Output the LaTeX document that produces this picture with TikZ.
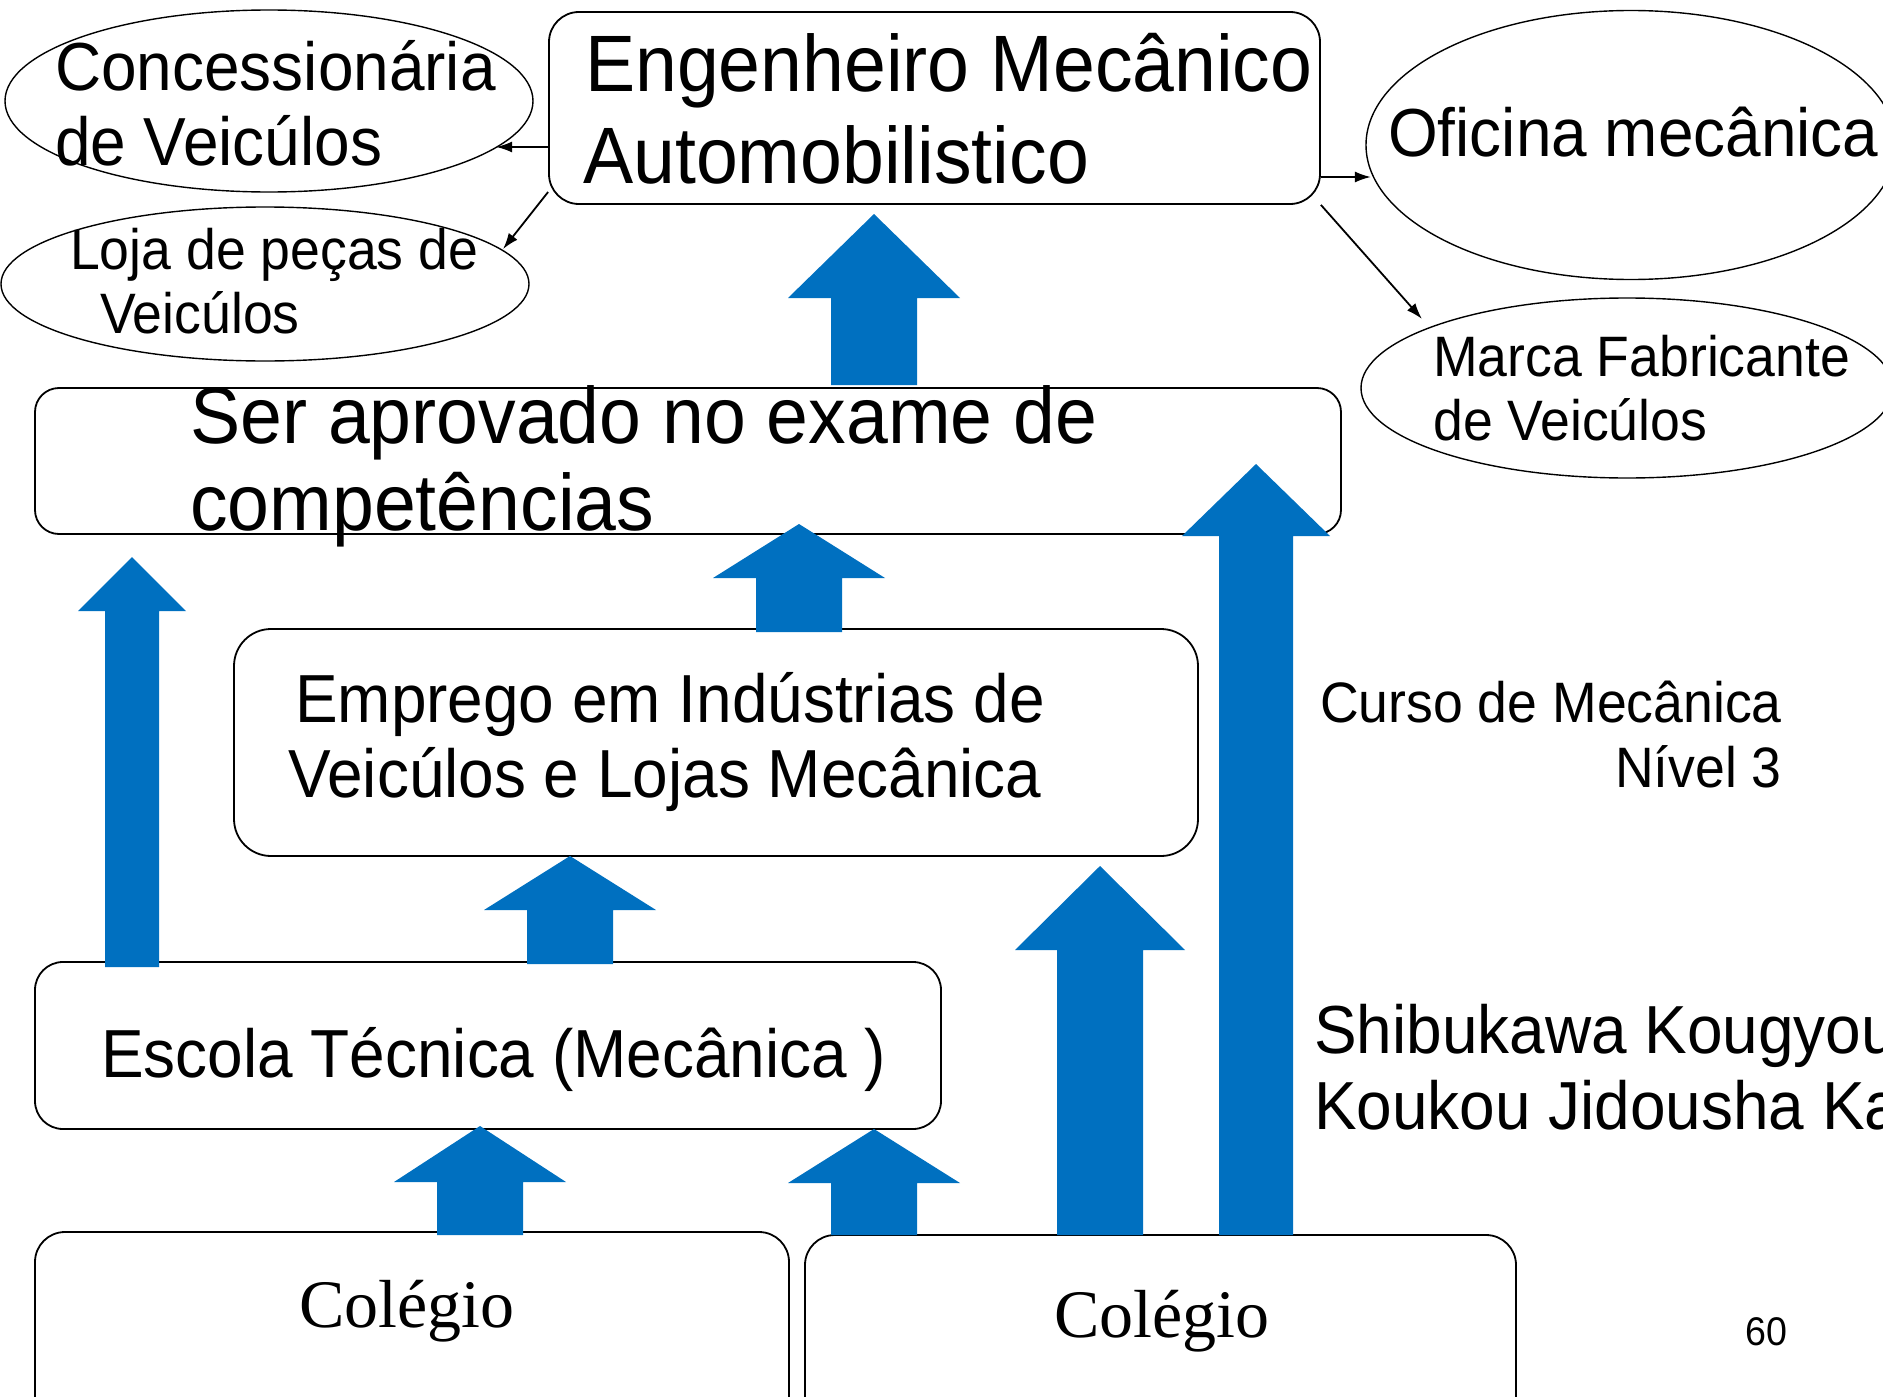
\documentclass[tikz,border=0pt]{standalone}
\usepackage{fontspec}
\setmainfont{Liberation Sans}
\newfontfamily\serifC{Liberation Serif}
\usetikzlibrary{arrows.meta,shapes.geometric}
\definecolor{pblue}{RGB}{0,112,192}
\newcommand\sq[1]{\scalebox{0.94}[1]{#1}}
\newcommand\fs[1]{\fontsize{#1pt}{#1pt}\selectfont}
\begin{document}
\begin{tikzpicture}[x=1pt,y=-1pt,
  box/.style={draw, line width=1.8pt, rounded corners=#1, inner sep=0pt},
  ell/.style={draw, ellipse, line width=1.4pt, inner sep=0pt},
  txt/.style={anchor=base west, inner sep=0pt},
  txtr/.style={anchor=base east, inner sep=0pt},
  arr/.style={line width=1.8pt, -{Latex[length=16pt,width=11pt]}},
  blk/.style={fill=pblue, draw=none}]
\useasboundingbox (0,0) rectangle (1883,1397);

% ellipses
\node[ell, minimum width=528pt, minimum height=182pt] (conc) at (269,101) {};
\node[ell, minimum width=528pt, minimum height=154pt] (loja) at (265,284) {};
\node[ell, minimum width=530pt, minimum height=269pt] (ofic) at (1631,145) {};
\node[ell, minimum width=532pt, minimum height=180pt] (marca) at (1627,388) {};

% boxes
\node[box=30pt, minimum width=771pt, minimum height=192pt] (eng) at (934.5,108) {};
\node[box=24pt, minimum width=1306pt, minimum height=146pt] (ser) at (688,461) {};
\node[box=37pt, minimum width=964pt, minimum height=227pt] (emp) at (716,742.5) {};
\node[box=28pt, minimum width=906pt, minimum height=167pt] (esc) at (488,1045.5) {};
\node[box=30pt, minimum width=754pt, minimum height=198pt] (col1) at (412,1331) {};
\node[box=30pt, minimum width=711pt, minimum height=195pt] (col2) at (1160.5,1332.5) {};

% thin connectors
\draw[arr] ([yshift=-39pt]eng.west) -- ++(-52,0);
\draw[arr] ([yshift=-84pt]eng.west) -- ++(-45,57);
\draw[arr] ([yshift=-69pt]eng.east) -- ++(50,0);
\draw[arr] (eng.south east) -- ++(101,114);

% blue block arrows: tip x, tip y, head base y, head half width, shaft half width, bottom y
\newcommand\barrow[6]{%
  \fill[blk] (#1,#2) -- (#1+#4,#3) -- (#1+#5,#3) -- (#1+#5,#6) -- (#1-#5,#6) -- (#1-#5,#3) -- (#1-#4,#3) -- cycle;}
\barrow{874}{214}{298}{86}{43}{385}
\barrow{132}{557}{611}{54}{27}{967}
\barrow{799}{524}{578}{86}{43}{632}
\barrow{1256}{464}{536}{74}{37}{1235}
\barrow{570}{856}{910}{86}{43}{964}
\barrow{1100}{866}{950}{85}{43}{1235}
\barrow{480}{1126}{1182}{86}{43}{1235}
\barrow{874}{1129}{1183}{86}{43}{1235}

% texts
\node[txt, font=\fs{68}] (t1a) at (55,91) {\sq{Concessionária}};
\node[txt, font=\fs{68}] (t1b) at (55,165) {\sq{de Veicúlos}};
\node[txt, font=\fs{57}] (t2a) at (70,269) {\sq{Loja de peças de}};
\node[txt, font=\fs{57}] (t2b) at (100,333) {\sq{Veicúlos}};
\node[txt, font=\fs{80}] (t3a) at (585,92) {\sq{Engenheiro Mecânico}};
\node[txt, font=\fs{80}] (t3b) at (583,183) {\sq{Automobilistico}};
\node[txt, font=\fs{68}] (t4) at (1388,156) {\sq{Oficina mecânica}};
\node[txt, font=\fs{57}] (t5a) at (1433,376) {\sq{Marca Fabricante}};
\node[txt, font=\fs{57}] (t5b) at (1433,440) {\sq{de Veicúlos}};
\node[txt, font=\fs{80}] (t6a) at (190,443) {\sq{Ser aprovado no exame de}};
\node[txt, font=\fs{80}] (t6b) at (190,530) {\sq{competências}};
\node[txt, font=\fs{68}] (t7a) at (295,722) {\sq{Emprego em Indústrias de}};
\node[txt, font=\fs{68}] (t7b) at (288,797) {\sq{Veicúlos e Lojas Mecânica}};
\node[txtr, font=\fs{57}] (t8a) at (1782,722) {\sq{Curso de Mecânica}};
\node[txtr, font=\fs{57}] (t8b) at (1782,787) {\sq{Nível 3}};
\node[txt, font=\fs{68}] (t9) at (101,1077) {\sq{Escola Técnica (Mecânica )}};
\node[txt, font=\fs{68}] (t10a) at (1314,1053) {\sq{Shibukawa Kougyou}};
\node[txt, font=\fs{68}] (t10b) at (1314,1129) {\sq{Koukou Jidousha Ka}};
\node[txt, font=\serifC\fs{68}] (t11) at (299,1327) {Colégio};
\node[txt, font=\serifC\fs{68}] (t12) at (1054,1337) {Colégio};
\node[txt, font=\fs{40}] (t13) at (1745,1345) {\sq{60}};
\end{tikzpicture}
\end{document}
